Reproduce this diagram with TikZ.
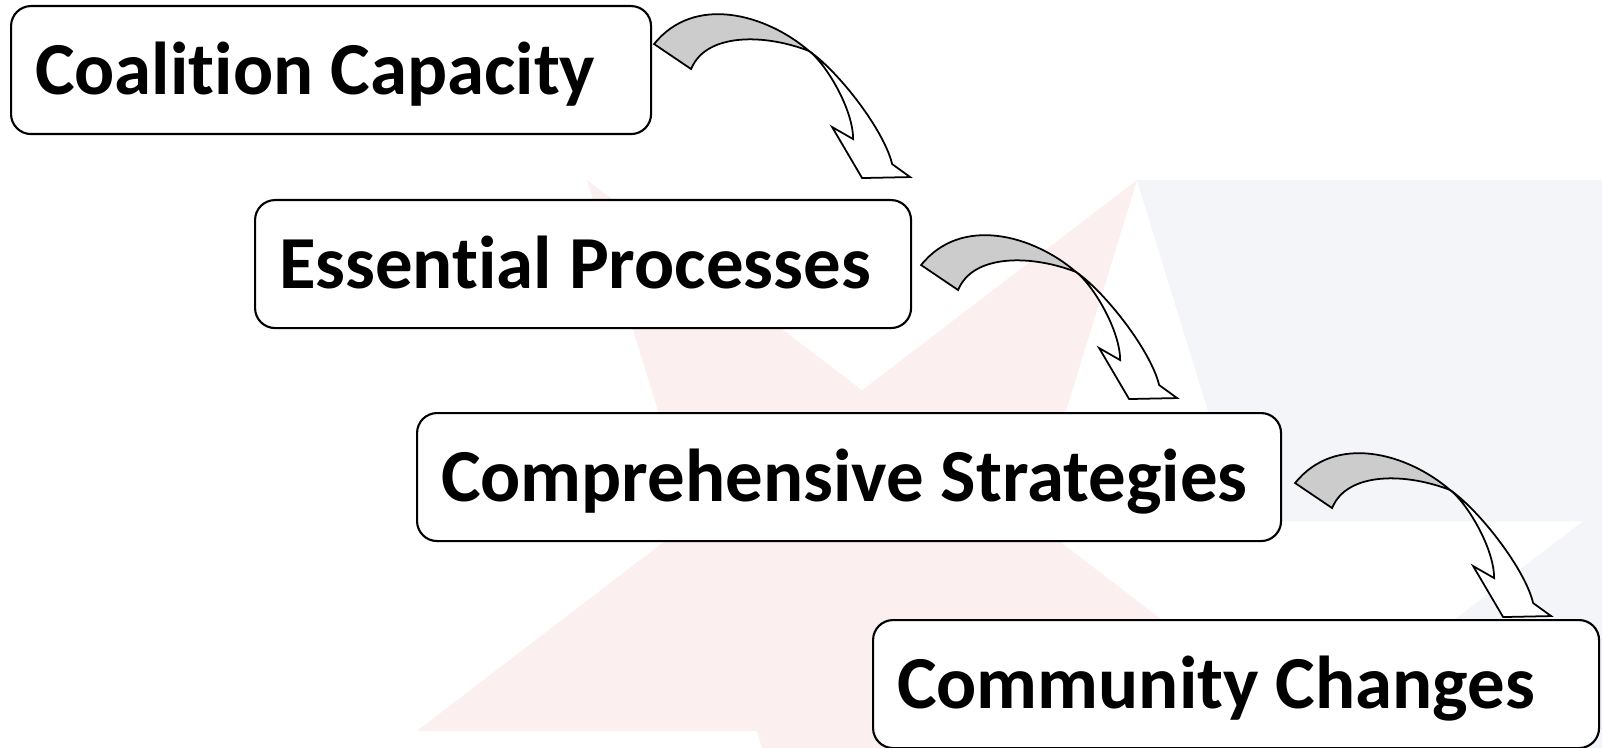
\documentclass[tikz,border=0pt]{standalone}
\usepackage{fontspec}
\setmainfont{Carlito}[Ligatures=NoCommon]
\newcommand\boxtextfont{\bfseries\fontsize{21.3}{25}\selectfont}
\definecolor{starpink}{RGB}{252,239,239}
\definecolor{flagblue}{RGB}{244,245,249}
\tikzset{
  flowbox/.style={draw, line width=0.6pt, rounded corners=0.2cm, fill=white,
    anchor=north west, minimum height=1.28cm, inner xsep=0.24cm,
    text height=0.58cm, text depth=0.1cm, align=flush left, font=\boxtextfont},
  twistarrow/.pic={
    \filldraw[fill=white, line width=0.5pt, line join=miter]
      (1.55,-0.07) .. controls (1.84,-0.27) and (2.30,-0.86) .. (2.38,-1.20)
      -- (2.56,-1.33) -- (2.08,-1.34) -- (1.78,-0.83) -- (1.99,-0.95)
      .. controls (1.99,-0.65) and (1.72,-0.20) .. (1.55,-0.07) -- cycle;
    \filldraw[fill=black!20, line width=0.5pt, line join=miter]
      (0,0) .. controls (0.40,0.50) and (1.12,0.30) .. (1.55,-0.07)
      .. controls (1.12,0.10) and (0.52,0.12) .. (0.37,-0.25) -- cycle;
  }
}
\begin{document}
\begin{tikzpicture}
\useasboundingbox (0,0) rectangle (16.02,-7.48);
\clip (0,0) rectangle (16.02,-7.48);

% faint flag in the background
\fill[flagblue] (11.367,-1.80) rectangle (16.02,-7.48);
\fill[white, shift={(11.367,-6.739)}, yscale=1.053] (90:4.69)
  \foreach \a in {126,198,270,342,54} { -- (\a:1.79) -- ({\a+36}:4.69) } -- cycle;
\fill[starpink, shift={(8.62,-5.787)}, yscale=1.053] (54:4.68)
  \foreach \a in {90,162,234,306,18} { -- (\a:1.79) -- ({\a+36}:4.68) } -- cycle;

\node[flowbox, text width=5.92cm] (cap) at (0.10,-0.05) {Coalition Capacity};
\node[flowbox, text width=6.08cm] (proc) at (2.54,-1.99) {Essential Processes};
\node[flowbox, text width=8.16cm] (strat) at (4.16,-4.12) {Comprehensive Strategies};
\node[flowbox, text width=6.78cm] (change) at (8.72,-6.19) {Community Changes};

\pic at ([shift={(0.02,0.26)}]cap.east) {twistarrow};
\pic at ([shift={(0.09,-0.01)}]proc.east) {twistarrow};
\pic at ([shift={(0.13,-0.06)}]strat.east) {twistarrow};

\end{tikzpicture}
\end{document}
